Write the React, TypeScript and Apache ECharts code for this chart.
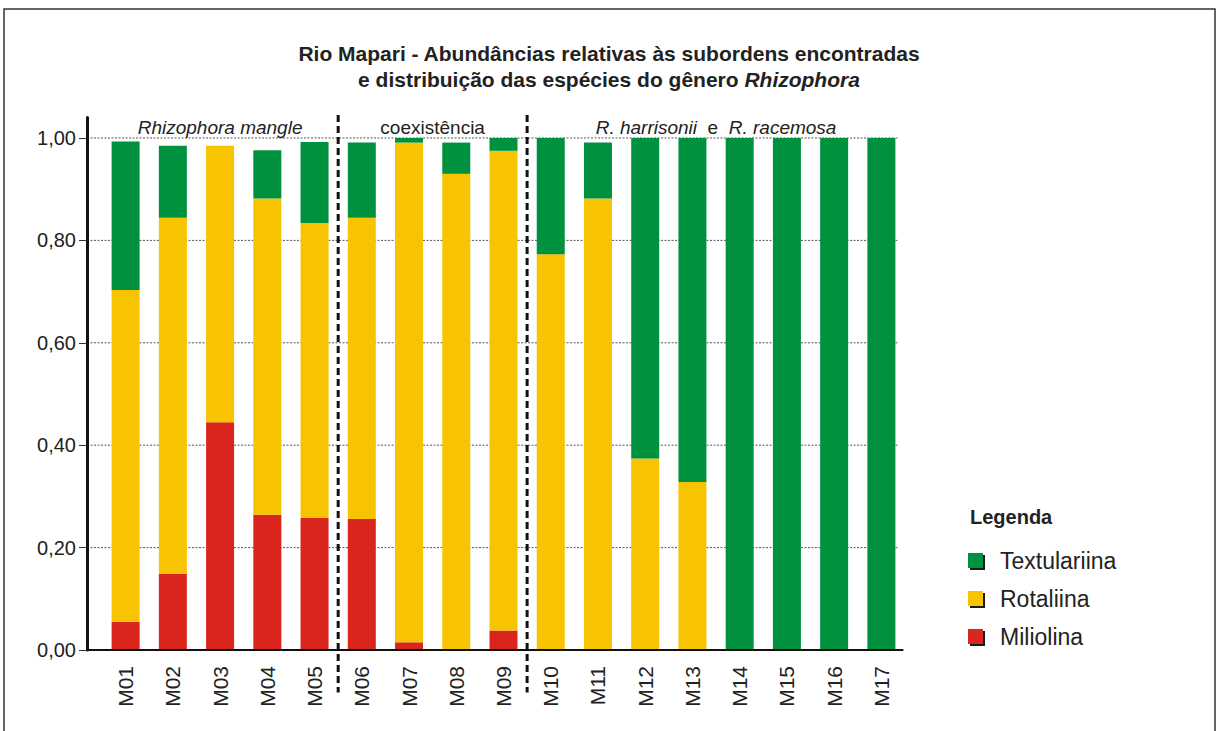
import React, { useEffect, useRef } from "react";
import * as echarts from "echarts";

const categories = ["M01", "M02", "M03", "M04", "M05", "M06", "M07", "M08", "M09", "M10", "M11", "M12", "M13", "M14", "M15", "M16", "M17"];
const miliolina = [0.055, 0.149, 0.445, 0.264, 0.258, 0.256, 0.015, 0, 0.038, 0, 0, 0, 0, 0, 0, 0, 0];
const rotaliina = [0.648, 0.695, 0.54, 0.618, 0.576, 0.588, 0.976, 0.93, 0.937, 0.773, 0.882, 0.374, 0.328, 0, 0, 0, 0];
const textulariina = [0.29, 0.141, 0, 0.094, 0.158, 0.147, 0.009, 0.061, 0.025, 0.227, 0.109, 0.626, 0.672, 1, 1, 1, 1];
const yTicks = [0, 0.2, 0.4, 0.6, 0.8, 1.0];
const gridValues = [0.2, 0.4, 0.6, 0.8, 1.0];
const separatorsAfter = [4, 8];
const groups = [
  { from: 0, to: 4, text: "{i|Rhizophora mangle}" },
  { from: 5, to: 8, text: "{n|coexistência}" },
  { from: 9, to: 16, text: "{i|R. harrisonii}{n|  e  }{i|R. racemosa}" },
];

const FONT = "'Liberation Sans', Arial, Helvetica, sans-serif";
const GREEN = "#00913F";
const YELLOW = "#F8C300";
const RED = "#DA251D";

export default function App() {
  const ref = useRef<HTMLDivElement>(null);
  useEffect(() => {
    const chart = echarts.init(ref.current!, null, { renderer: "svg" });
    const mk = (name: string, vals: number[], color: string) => ({
      name,
      type: "bar",
      stack: "total",
      barWidth: 28,
      itemStyle: { color },
      data: vals,
    });
    chart.setOption({
      animation: false,
      textStyle: { fontFamily: FONT },
      title: {
        left: "center",
        top: 35,
        text:
          "{b|Rio Mapari - Abundâncias relativas às subordens encontradas}\n{b|e distribuição das espécies do gênero }{bi|Rhizophora}",
        textStyle: {
          rich: {
            b: { fontSize: 21, fontWeight: "bold", fontFamily: FONT, color: "#222", lineHeight: 26 },
            bi: { fontSize: 21, fontWeight: "bold", fontStyle: "italic", fontFamily: FONT, color: "#222", lineHeight: 26 },
          },
        },
      },
      legend: {
        orient: "vertical",
        left: 968,
        top: 548,
        padding: 0,
        data: ["Textulariina", "Rotaliina", "Miliolina"],
        icon: "rect",
        itemWidth: 15,
        itemHeight: 15,
        itemGap: 13,
        selectedMode: false,
        itemStyle: { shadowColor: "#1a1a1a", shadowOffsetX: 2, shadowOffsetY: 2, shadowBlur: 0 },
        textStyle: { fontSize: 23, color: "#222", fontFamily: FONT, lineHeight: 25, padding: [0, 0, 0, 12] },
      },
      grid: { left: 102, right: 313, top: 117.5, bottom: 81, containLabel: false },
      xAxis: {
        type: "category",
        data: categories,
        splitLine: { show: false },
        axisLine: { show: false },
        axisTick: { show: false },
        axisLabel: {
          rotate: 90,
          margin: 16,
          fontSize: 21,
          color: "#222",
          fontFamily: FONT,
        },
      },
      yAxis: {
        type: "value",
        min: 0,
        max: 1.04,
        offset: 15,
        splitLine: { show: false },
        axisLine: { show: true, lineStyle: { color: "#111", width: 3 } },
        axisTick: { show: true, customValues: yTicks, length: 8, lineStyle: { color: "#333", width: 1 } },
        axisLabel: {
          customValues: yTicks,
          margin: 11,
          fontSize: 20,
          color: "#222",
          fontFamily: FONT,
          formatter: (v: number) => v.toFixed(2).replace(".", ","),
        },
      },
      series: [mk("Miliolina", miliolina, RED), mk("Rotaliina", rotaliina, YELLOW), mk("Textulariina", textulariina, GREEN)],
    });

    const px = (x: number, y: number) => chart.convertToPixel({ gridIndex: 0 }, [x, y]) as number[];
    const axisX = px(0, 0)[0] - 23.6 - 15;
    const graphic: any[] = [
      {
        type: "rect",
        silent: true,
        shape: { x: 4, y: 9, width: 1211, height: 740 },
        style: { fill: "none", stroke: "#333", lineWidth: 1.5 },
      },
      {
        type: "text",
        left: 970,
        top: 507,
        style: { text: "Legenda", font: `bold 20px ${FONT}`, fill: "#222" },
      },
    ];
    gridValues.forEach((v) => {
      const y = px(0, v)[1];
      graphic.push({
        type: "line",
        silent: true,
        z: -1,
        shape: { x1: axisX, y1: y, x2: px(16, v)[0] + 16, y2: y },
        style: { stroke: "#555", lineWidth: 1, lineDash: [2, 1.5] },
      });
    });
    const y0 = px(0, 0)[1];
    graphic.push({
      type: "line",
      silent: true,
      z: 5,
      shape: { x1: axisX, y1: y0, x2: px(16, 0)[0] + 22, y2: y0 },
      style: { stroke: "#111", lineWidth: 2 },
    });
    separatorsAfter.forEach((s) => {
      const x = (px(s, 0)[0] + px(s + 1, 0)[0]) / 2;
      const top = px(s, 1.045)[1];
      const bot = px(s, -0.083)[1];
      graphic.push({
        type: "line",
        silent: true,
        z: 10,
        shape: { x1: x, y1: top, x2: x, y2: bot },
        style: { stroke: "#111", lineWidth: 3, lineDash: [7, 4] },
      });
    });
    groups.forEach((g) => {
      const x = (px(g.from, 1.02)[0] + px(g.to, 1.02)[0]) / 2;
      const y = px(g.from, 1.02)[1];
      graphic.push({
        type: "text",
        silent: true,
        x,
        y,
        style: {
          text: g.text,
          align: "center",
          verticalAlign: "middle",
          rich: {
            i: { fontStyle: "italic", fontSize: 19, fontFamily: FONT, fill: "#222" },
            n: { fontSize: 19, fontFamily: FONT, fill: "#222" },
          },
        },
      });
    });
    chart.setOption({ graphic });
    return () => chart.dispose();
  }, []);
  return <div ref={ref} style={{ position: "fixed", left: 0, top: 0, width: 1218, height: 731, background: "#fff" }} />;
}
